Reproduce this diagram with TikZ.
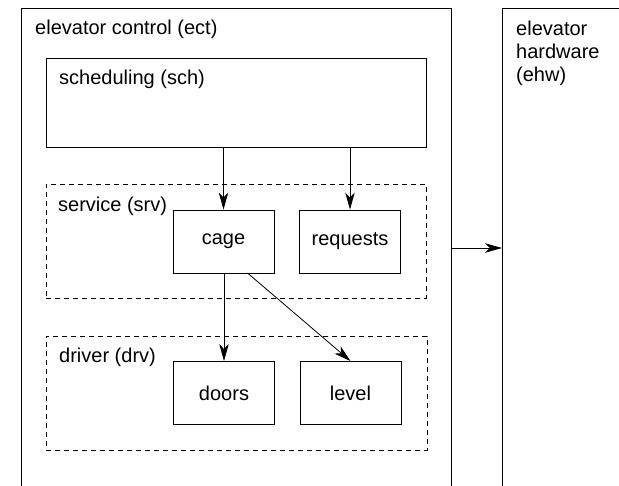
\documentclass[tikz,border=0pt]{standalone}
\usepackage{fontspec}
\setmainfont{Liberation Sans}
\usetikzlibrary{arrows.meta}

\tikzset{
  box/.style={draw, line width=0.9pt, rectangle, inner sep=0pt},
  pkg/.style={draw, line width=0.9pt, dash pattern=on 5pt off 4pt, rectangle, inner sep=0pt},
  mod/.style={box, minimum width=101pt, minimum height=63pt},
  title/.style={anchor=base west, inner sep=0pt, align=left},
  flow/.style={-{Stealth[length=17pt, width=9.5pt, inset=5pt]}, line width=0.8pt},
}

\begin{document}
\begin{tikzpicture}[x=1pt, y=-1pt, font=\fontsize{20}{22.5}\selectfont]
\useasboundingbox (0,0) rectangle (619,486);
\clip (0,0) rectangle (619,486);

% subsystems (their lower edges run off the sheet)
\node[box, minimum width=430pt, minimum height=500pt, anchor=north west] (ect) at (21,8) {};
\node[box, minimum width=140pt, minimum height=500pt, anchor=north west] (ehw) at (502,8) {};
\node[title] (ectlbl) at (35,35) {elevator control (ect)};
\node[title, anchor=north west, font=\fontsize{20}{23}\selectfont] (ehwlbl) at (516,20.5) {elevator\\hardware\\(ehw)};

% scheduling layer
\node[box, minimum width=380pt, minimum height=89pt, anchor=north west] (sch) at (46,58) {};
\node[title] (schlbl) at (59,85) {scheduling (sch)};

% service package
\node[pkg, minimum width=380pt, minimum height=114pt, anchor=north west] (srv) at (46,184) {};
\node[title] (srvlbl) at (58,212) {service (srv)};
\node[mod] (cage) at (223.5,241.5) {cage};
\node[mod] (req) at (350,241.5) {requests};

% driver package
\node[pkg, minimum width=381pt, minimum height=114pt, anchor=north west] (drv) at (46,336) {};
\node[title] (drvlbl) at (59,363) {driver (drv)};
\node[mod] (doors) at (224,393) {doors};
\node[mod] (level) at (350.5,393) {level};

% dependencies
\draw[flow] (sch.south -| cage.north) -- (cage.north);
\draw[flow] (sch.south -| req.north) -- (req.north);
\draw[flow] (cage.south -| doors.north) -- (doors.north);
\coordinate (cageout) at (247.5,273);
\draw[flow] (cageout) -- (level.north);
\coordinate (ectout) at (451,248);
\draw[flow] (ectout) -- (ectout -| ehw.west);
\end{tikzpicture}
\end{document}
